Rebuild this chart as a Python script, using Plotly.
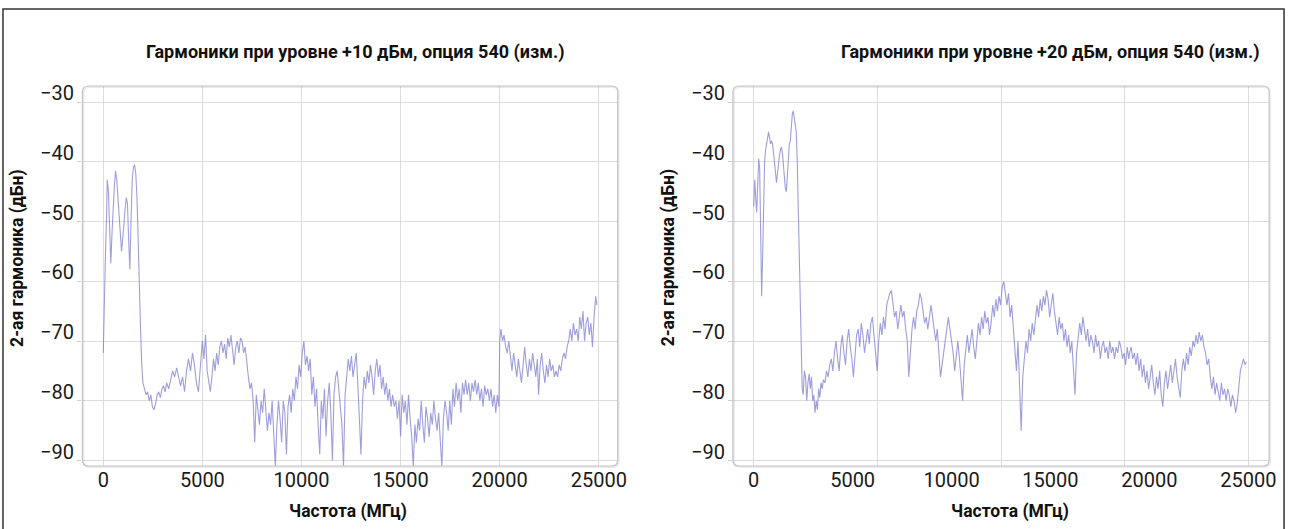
import plotly.graph_objects as go

W, H = 1296, 529

# ---------------- data ----------------
title_left = "Гармоники при уровне +10 дБм, опция 540 (изм.)"
title_right = "Гармоники при уровне +20 дБм, опция 540 (изм.)"
x_title = "Частота (МГц)"
y_title = "2-ая гармоника (дБн)"

x_ticks = [0, 5000, 10000, 15000, 20000, 25000]
x_tick_text = ["0", "5000", "10000", "15000", "20000", "25000"]
x_grid_right = [0, 6250, 12500, 18750, 25000]
y_ticks = [-30, -40, -50, -60, -70, -80, -90]
y_tick_text = ["\u221230", "\u221240", "\u221250", "\u221260", "\u221270", "\u221280", "\u221290"]

freq_left = [0, 40, 80, 120, 160, 200, 260, 320, 380, 440, 500, 560, 620, 680, 740, 800, 860, 920, 980, 1040,
             1100, 1160, 1220, 1280, 1340, 1400, 1460, 1520, 1580, 1640, 1700, 1760, 1820, 1880, 1940, 2000,
             2080, 2160, 2240, 2320, 2400, 2480, 2560, 2640, 2720, 2800, 2880, 2960, 3040, 3120, 3200, 3300,
             3400, 3500, 3600, 3700, 3800, 3900, 4000, 4100, 4200, 4300, 4400, 4500, 4600, 4700, 4800, 4900,
             5000, 5080, 5160, 5240, 5320, 5400, 5480, 5560, 5640, 5720, 5800, 5880, 5960, 6040, 6120, 6200,
             6280, 6360, 6440, 6520, 6600, 6680, 6760, 6840, 6920, 7000, 7080, 7160, 7240, 7320, 7400, 7480,
             7560, 7640, 7720, 7800, 7880, 7960, 8040, 8120, 8200, 8280, 8360, 8440, 8520, 8600, 8680, 8760,
             8840, 8920, 9000, 9080, 9160, 9240, 9320, 9400, 9480, 9560, 9640, 9720, 9800, 9880, 9960, 10040,
             10120, 10200, 10280, 10360, 10440, 10520, 10600, 10680, 10760, 10840, 10920, 11000, 11080, 11160,
             11240, 11320, 11400, 11480, 11560, 11640, 11720, 11800, 11880, 11960, 12040, 12120, 12200, 12280,
             12360, 12440, 12520, 12600, 12680, 12760, 12840, 12920, 13000, 13080, 13160, 13240, 13320, 13400,
             13480, 13560, 13640, 13720, 13800, 13880, 13960, 14040, 14120, 14200, 14280, 14360, 14440, 14520,
             14600, 14680, 14760, 14840, 14920, 15000, 15080, 15160, 15240, 15320, 15400, 15480, 15560, 15640,
             15720, 15800, 15880, 15960, 16040, 16120, 16200, 16280, 16360, 16440, 16520, 16600, 16680, 16760,
             16840, 16920, 17000, 17080, 17160, 17240, 17320, 17400, 17480, 17560, 17640, 17720, 17800, 17880,
             17960, 18040, 18120, 18200, 18280, 18360, 18440, 18520, 18600, 18680, 18760, 18840, 18920, 19000,
             19080, 19160, 19240, 19320, 19400, 19480, 19560, 19640, 19720, 19800, 19880, 19960, 20000, 20060,
             20140, 20220, 20300, 20380, 20460, 20540, 20620, 20700, 20780, 20860, 20940, 21020, 21100, 21180,
             21260, 21340, 21420, 21500, 21580, 21660, 21740, 21820, 21900, 21960, 22040, 22120, 22200, 22280,
             22360, 22440, 22520, 22600, 22680, 22760, 22840, 22920, 23000, 23080, 23160, 23240, 23320, 23400,
             23480, 23560, 23640, 23720, 23800, 23880, 23960, 24040, 24120, 24200, 24280, 24360, 24440, 24520,
             24600, 24680, 24760, 24840, 24900]
harm_left = [-72, -64, -56, -54, -50, -43, -45, -50, -57, -52, -47, -44, -41.5, -43, -46, -49, -52, -55, -53, -50,
             -48, -46, -47, -53, -58, -50, -43, -41, -40.5, -42, -46, -53, -62, -68, -74, -77,
             -78, -79, -78.5, -80, -79, -81, -81.5, -80.5, -79, -78.5, -79.5, -78, -77.5, -78.5, -77, -78,
             -76.5, -75, -76, -74.5, -76, -77.5, -76, -78.5, -75, -73, -75, -72, -74, -77, -78.5, -74,
             -70, -73, -69, -75, -77, -78.5, -76, -73, -75, -72, -74, -71, -70, -72, -70.5, -73,
             -69.5, -71, -69, -72, -74, -71, -70, -72, -69.5, -70, -72, -71, -74, -76, -78, -77,
             -80, -87, -79, -82, -84, -80, -82, -78, -81, -85, -82, -84, -80, -85, -91, -84,
             -80, -83, -87, -80, -82, -89, -81, -79, -82, -78, -80, -76, -78, -74, -76, -72,
             -70, -74, -72.5, -75, -73, -79, -76, -81, -78, -84, -89, -80, -83, -78,
             -86, -80, -77, -82, -90, -79, -76, -75, -78, -80, -84, -91, -79, -76,
             -73, -75, -72.5, -76, -74, -72, -77, -82, -89, -80, -76, -78, -75, -77,
             -74, -76, -79, -75, -73, -76, -74, -78, -76, -79, -77, -80, -78, -81,
             -79, -81, -80, -83, -80, -86, -79, -82, -80, -84, -79, -83, -86, -91,
             -84, -87, -83, -85, -80, -84, -87, -81, -83, -86, -82, -84, -80, -83,
             -85, -82, -86, -91, -83, -80, -82, -85, -80, -84, -78, -81, -77, -80,
             -78, -82, -77, -79, -76.5, -79, -77, -80, -77, -78.5, -76.5, -79, -77, -80,
             -78, -81, -77.5, -79, -78, -80, -78, -81, -79, -82, -79, -81, -70, -68,
             -70, -69, -71, -72, -70, -73, -75, -72, -74, -76, -73, -75, -77, -74,
             -71, -74, -76, -73, -75, -72, -74, -76, -73, -79, -74, -72, -75, -77,
             -74, -76, -73, -75, -74, -76, -75, -76, -74, -75, -73, -72, -73, -71,
             -70, -68, -70, -67, -69, -68, -70, -66, -68, -65, -70, -67, -66, -69,
             -67, -71, -66, -62.5, -64]

freq_right = [0, 50, 100, 150, 200, 250, 300, 350, 400, 450, 500, 550, 600, 650, 700, 750, 800, 850, 900, 950,
              1000, 1050, 1100, 1150, 1200, 1250, 1300, 1350, 1400, 1450, 1500, 1550, 1600, 1650, 1700, 1750,
              1800, 1850, 1900, 1950, 2000, 2050, 2100, 2150, 2200, 2250, 2300, 2350, 2400, 2450, 2500, 2560,
              2620, 2680, 2740, 2800, 2860, 2920, 2980, 3040, 3100, 3160, 3220, 3280, 3340, 3400, 3460, 3520,
              3600, 3680, 3760, 3840, 3920, 4000, 4080, 4160, 4240, 4320, 4400, 4480, 4560, 4640, 4720, 4800,
              4880, 4960, 5040, 5120, 5200, 5280, 5360, 5440, 5520, 5600, 5680, 5760, 5840, 5920, 6000, 6080,
              6160, 6240, 6320, 6400, 6480, 6560, 6640, 6720, 6800, 6880, 6960, 7040, 7120, 7200, 7280, 7360,
              7440, 7520, 7600, 7680, 7760, 7840, 7920, 8000, 8080, 8160, 8240, 8320, 8400, 8480, 8560, 8640,
              8720, 8800, 8880, 8960, 9040, 9120, 9200, 9280, 9360, 9440, 9520, 9600, 9680, 9760, 9840, 9920,
              10000, 10080, 10160, 10240, 10320, 10400, 10480, 10560, 10640, 10720, 10800, 10880, 10960, 11040,
              11120, 11200, 11280, 11360, 11440, 11520, 11600, 11680, 11760, 11840, 11920, 12000, 12080, 12160,
              12240, 12320, 12400, 12480, 12560, 12640, 12720, 12800, 12880, 12960, 13040, 13120, 13200, 13280,
              13360, 13440, 13520, 13600, 13680, 13760, 13840, 13920, 14000, 14080, 14160, 14240, 14320, 14400,
              14480, 14560, 14640, 14720, 14800, 14880, 14960, 15040, 15120, 15200, 15280, 15360, 15440, 15520,
              15600, 15680, 15760, 15840, 15920, 16000, 16080, 16160, 16240, 16320, 16400, 16480, 16560, 16640,
              16720, 16800, 16880, 16960, 17040, 17120, 17200, 17280, 17360, 17440, 17520, 17600, 17680, 17760,
              17840, 17920, 18000, 18080, 18160, 18240, 18320, 18400, 18480, 18560, 18640, 18720, 18800, 18880,
              18960, 19000, 19080, 19160, 19240, 19320, 19400, 19480, 19560, 19640, 19720, 19800, 19880, 19960,
              20040, 20120, 20200, 20280, 20360, 20440, 20520, 20600, 20680, 20760, 20840, 20920, 21000, 21080,
              21160, 21240, 21320, 21400, 21480, 21560, 21640, 21720, 21800, 21880, 21960, 22040, 22120, 22200,
              22280, 22360, 22440, 22520, 22600, 22680, 22760, 22840, 22920, 23000, 23080, 23160, 23240, 23320,
              23400, 23480, 23560, 23640, 23720, 23800, 23880, 23960, 24040, 24120, 24200, 24280, 24360, 24440,
              24520, 24600, 24680, 24760, 24840, 24900]
harm_right = [-47.5, -43, -46, -48.5, -44, -39.5, -41, -52, -62.5, -56, -44, -40, -38, -37, -36, -35, -36, -37, -36.5, -37,
              -38.5, -40, -42, -43.5, -42, -40, -39, -38, -37.5, -38.5, -41, -43, -44.5, -45, -42, -38,
              -37, -36.5, -34, -32, -31.5, -32.5, -34, -35, -40, -47, -55, -61, -70, -78, -79, -75,
              -76, -80, -77, -75.5, -78, -76, -80, -79, -82, -80, -81.5, -78, -79.5, -77, -78, -76.5,
              -77, -75, -76, -74, -73, -75, -72, -70, -73, -75, -71, -69, -72, -74, -70, -68,
              -71, -73, -76, -72, -69, -68, -71, -67, -69, -72, -70, -68, -70.5, -67, -66, -69,
              -72, -75, -70, -67, -69, -66, -68, -64, -63, -62, -61.5, -64, -66, -65, -68, -66,
              -64, -66, -65, -68, -70, -76, -72, -68, -66, -68, -65, -64, -62, -63, -65, -67,
              -66, -68, -66, -64, -66, -68, -70, -68, -72, -76, -74, -72, -70, -68, -66, -68,
              -70, -72, -75, -72, -70, -73, -76, -80, -74, -71, -69, -72, -70, -68,
              -71, -73, -70, -67, -69, -66, -68, -65, -67, -66, -69, -67, -64, -66,
              -63, -65, -62.5, -64, -61, -60, -62, -64, -62, -66, -64, -68, -72, -75,
              -70, -79, -85, -76, -73, -70, -72, -68, -70, -67, -69, -66, -64, -66,
              -63, -65, -62.5, -64, -61.5, -63, -66, -64, -62, -65, -67, -69, -66, -68,
              -67, -70, -68, -71, -69, -72, -70, -74, -79, -72, -69, -67, -69, -66,
              -68, -70, -68, -71, -69, -70, -72, -69, -71, -70, -73, -71, -70, -72,
              -71, -73, -70, -72, -71, -73, -71, -72, -70, -71, -73, -72, -74, -71,
              -73, -72, -71, -73, -72, -74, -72, -75, -73, -76, -74, -77, -75, -78,
              -76, -74, -77, -79, -76, -78, -75, -79, -81, -77, -75, -78, -76, -74,
              -77, -75, -73, -76, -78, -79.5, -75, -73, -75, -72, -74, -71, -72.5, -70,
              -71, -69, -70.5, -68.5, -70, -69, -71, -72, -74, -73, -76, -78, -76, -79,
              -77, -78.5, -80, -77, -79, -78, -80, -78, -79, -81, -79, -80, -82, -80.5,
              -77, -75, -74, -73, -74, -73.5]

# ---------------- geometry helpers (pixels -> paper) ----------------
def px(x):
    return x / W

def py(y):
    return 1 - y / H

def rounded_box(x0, y0, x1, y1, r=5):
    rx, ry = r, r
    pts = [
        f"M {px(x0 + rx)},{py(y0)}",
        f"L {px(x1 - rx)},{py(y0)}",
        f"Q {px(x1)},{py(y0)} {px(x1)},{py(y0 + ry)}",
        f"L {px(x1)},{py(y1 - ry)}",
        f"Q {px(x1)},{py(y1)} {px(x1 - rx)},{py(y1)}",
        f"L {px(x0 + rx)},{py(y1)}",
        f"Q {px(x0)},{py(y1)} {px(x0)},{py(y1 - ry)}",
        f"L {px(x0)},{py(y0 + ry)}",
        f"Q {px(x0)},{py(y0)} {px(x0 + rx)},{py(y0)}",
        "Z",
    ]
    return " ".join(pts)

L_X0, L_X1 = 83, 622
R_X0, R_X1 = 738, 1278
B_Y0, B_Y1 = 86, 466

line_color = "rgba(125,125,210,0.75)"
grid_color = "#dcdcdc"
tick_font = dict(family="Roboto", size=20, color="#1a1a1a")
bold_font = dict(family="Roboto", size=18, color="#111111")
axis_font = dict(family="Roboto", size=17.5, color="#111111")

fig = go.Figure()
fig.add_trace(go.Scatter(x=freq_left, y=harm_left, mode="lines",
                         line=dict(color=line_color, width=1.1), xaxis="x", yaxis="y",
                         showlegend=False, hoverinfo="skip"))
fig.add_trace(go.Scatter(x=freq_right, y=harm_right, mode="lines",
                         line=dict(color=line_color, width=1.1), xaxis="x2", yaxis="y2",
                         showlegend=False, hoverinfo="skip"))

yrange = [-90.92, -27.32]
common_y = dict(range=yrange, tickmode="array", tickvals=y_ticks, showgrid=True,
                gridcolor=grid_color, gridwidth=1.2, zeroline=False, showline=False,
                showticklabels=False, ticks="outside", ticklen=4, tickcolor="#cfcfcf",
                tickwidth=1.2, domain=[py(B_Y1), py(B_Y0)], fixedrange=True)

fig.update_layout(
    width=W, height=H,
    margin=dict(l=0, r=0, t=0, b=0),
    paper_bgcolor="white", plot_bgcolor="rgba(0,0,0,0)",
    font=dict(family="Roboto"),
    xaxis=dict(domain=[px(L_X0), px(L_X1)], range=[-1052, 25952], tickmode="array",
               tickvals=x_ticks, ticktext=x_tick_text, showgrid=True, gridcolor=grid_color,
               gridwidth=1.2, zeroline=False, showline=False, ticks="", tickfont=tick_font,
               anchor="y", fixedrange=True),
    yaxis=dict(anchor="x", **common_y),
    xaxis2=dict(domain=[px(R_X0), px(R_X1)], range=[-1054, 26054], tickmode="array",
                tickvals=x_ticks, ticktext=x_tick_text, showgrid=False, zeroline=False,
                showline=False, ticks="", tickfont=tick_font, anchor="y2", fixedrange=True,
                minor=dict(tickmode="array", tickvals=x_grid_right, showgrid=True,
                           gridcolor=grid_color, gridwidth=1.2, ticks="")),
    yaxis2=dict(anchor="x2", **common_y),
)

shapes = []
for (x0, x1) in [(L_X0, L_X1), (R_X0, R_X1)]:
    shapes.append(dict(type="path", xref="paper", yref="paper",
                       path=rounded_box(x0 + 1, B_Y0 + 1, x1 + 1, B_Y1 + 1, 6),
                       line=dict(color="rgba(0,0,0,0.08)", width=2), layer="above"))
    shapes.append(dict(type="path", xref="paper", yref="paper",
                       path=rounded_box(x0, B_Y0, x1, B_Y1, 6),
                       line=dict(color="#c4c4c4", width=1.2), layer="above"))
# outer frame (left, top, right sides; bottom lies outside the picture)
frame = f"M {px(3)},{py(545)} L {px(3)},{py(9)} L {px(1293)},{py(9)} L {px(1293)},{py(545)}"
shapes.append(dict(type="path", xref="paper", yref="paper", path=frame,
                   line=dict(color="#333333", width=1.5), layer="above"))
fig.update_layout(shapes=shapes)

ann = []
ann.append(dict(text=f"<b>{title_left}</b>", x=px(357), y=py(52), xref="paper", yref="paper",
                showarrow=False, font=bold_font, xanchor="center", yanchor="middle"))
ann.append(dict(text=f"<b>{title_right}</b>", x=px(1057), y=py(52), xref="paper", yref="paper",
                showarrow=False, font=bold_font, xanchor="center", yanchor="middle"))
ann.append(dict(text=f"<b>{x_title}</b>", x=px(350), y=py(511), xref="paper", yref="paper",
                showarrow=False, font=axis_font, xanchor="center", yanchor="middle"))
ann.append(dict(text=f"<b>{x_title}</b>", x=px(1017), y=py(511), xref="paper", yref="paper",
                showarrow=False, font=axis_font, xanchor="center", yanchor="middle"))
ann.append(dict(text=f"<b>{y_title}</b>", x=px(17), y=py(258), xref="paper", yref="paper",
                showarrow=False, font=axis_font, textangle=-90, xanchor="center", yanchor="middle"))
ann.append(dict(text=f"<b>{y_title}</b>", x=px(673), y=py(258), xref="paper", yref="paper",
                showarrow=False, font=axis_font, textangle=-90, xanchor="center", yanchor="middle"))
# y tick labels, drawn slightly above their grid lines as in the original
for yref_name, x_right in [("y", 77), ("y2", 732)]:
    for v, t in zip(y_ticks, y_tick_text):
        ann.append(dict(text=t, x=px(x_right), y=v, xref="paper", yref=yref_name,
                        showarrow=False, font=tick_font, xanchor="right", yanchor="middle",
                        yshift=9))
fig.update_layout(annotations=ann)

fig.write_html("out.html", config={"displayModeBar": False},
               post_script="document.body.style.margin='0px';")
